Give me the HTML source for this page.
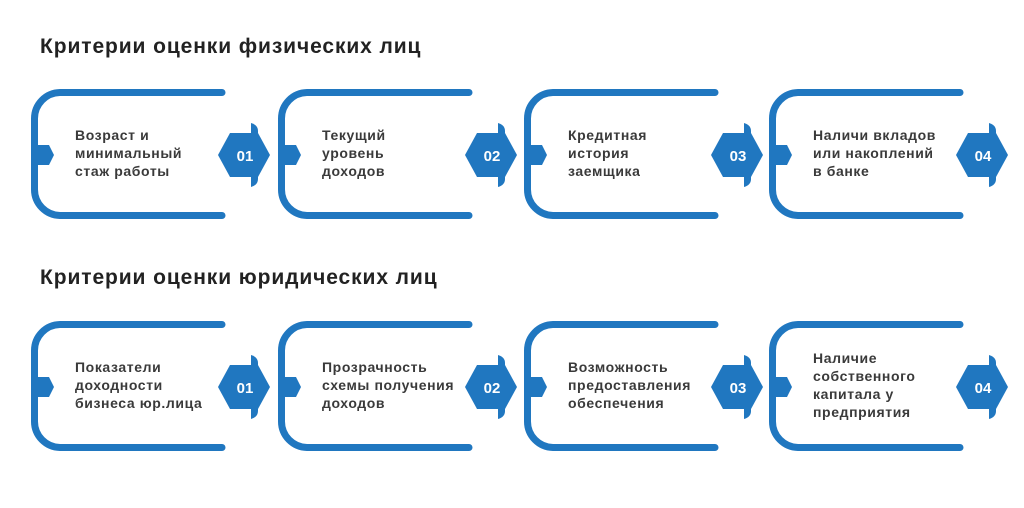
<!DOCTYPE html>
<html><head><meta charset="utf-8"><style>
html,body{margin:0;padding:0;background:#fff;}
svg text{font-family:"Liberation Sans","DejaVu Sans",sans-serif;}
.t{font-size:14px;font-weight:bold;fill:#3a3a3a;letter-spacing:0.6px;}
.h{font-size:21px;font-weight:bold;fill:#222;letter-spacing:0.9px;}
.n{font-size:15px;fill:#fff;font-weight:bold;}
</style></head><body>
<svg width="1024" height="503" viewBox="0 0 1024 503" xmlns="http://www.w3.org/2000/svg">
<defs>
<g id="blk">
<path d="M222,-62.5 H60 A26,26 0 0 0 34.5,-36.5 V34.5 A26,26 0 0 0 60,60.5 H222" fill="none" stroke="#2077c0" stroke-width="7" stroke-linecap="round"/>
<polygon points="36,-10 49,-10 54,0 49,10 36,10" fill="#2077c0"/>
<polygon points="218,0 230,-22 258,-22 270,0 258,22 230,22" fill="#2077c0"/>
<path d="M251,-22 V-32 Q258,-30 258,-24 V-22 Z" fill="#2077c0"/>
<path d="M251,22 V32 Q258,30 258,24 V22 Z" fill="#2077c0"/>
</g>
</defs>
<text class="h" x="40" y="53">Критерии оценки физических лиц</text>
<text class="h" x="40" y="284">Критерии оценки юридических лиц</text>

<use href="#blk" x="0" y="155"/>
<use href="#blk" x="247" y="155"/>
<use href="#blk" x="493" y="155"/>
<use href="#blk" x="738" y="155"/>
<use href="#blk" x="0" y="387"/>
<use href="#blk" x="247" y="387"/>
<use href="#blk" x="493" y="387"/>
<use href="#blk" x="738" y="387"/>

<g class="n" text-anchor="middle">
<text class="n" x="245" y="161">01</text>
<text class="n" x="492" y="161">02</text>
<text class="n" x="738" y="161">03</text>
<text class="n" x="983" y="161">04</text>
<text class="n" x="245" y="393">01</text>
<text class="n" x="492" y="393">02</text>
<text class="n" x="738" y="393">03</text>
<text class="n" x="983" y="393">04</text>
</g>

<text class="t" x="75" y="140">Возраст и</text>
<text class="t" x="75" y="158">минимальный</text>
<text class="t" x="75" y="176">стаж работы</text>

<text class="t" x="322" y="140">Текущий</text>
<text class="t" x="322" y="158">уровень</text>
<text class="t" x="322" y="176">доходов</text>

<text class="t" x="568" y="140">Кредитная</text>
<text class="t" x="568" y="158">история</text>
<text class="t" x="568" y="176">заемщика</text>

<text class="t" x="813" y="140">Наличи вкладов</text>
<text class="t" x="813" y="158">или накоплений</text>
<text class="t" x="813" y="176">в банке</text>

<text class="t" x="75" y="372">Показатели</text>
<text class="t" x="75" y="390">доходности</text>
<text class="t" x="75" y="408">бизнеса юр.лица</text>

<text class="t" x="322" y="372">Прозрачность</text>
<text class="t" x="322" y="390">схемы получения</text>
<text class="t" x="322" y="408">доходов</text>

<text class="t" x="568" y="372">Возможность</text>
<text class="t" x="568" y="390">предоставления</text>
<text class="t" x="568" y="408">обеспечения</text>

<text class="t" x="813" y="363">Наличие</text>
<text class="t" x="813" y="381">собственного</text>
<text class="t" x="813" y="399">капитала у</text>
<text class="t" x="813" y="417">предприятия</text>
</svg>
</body></html>
